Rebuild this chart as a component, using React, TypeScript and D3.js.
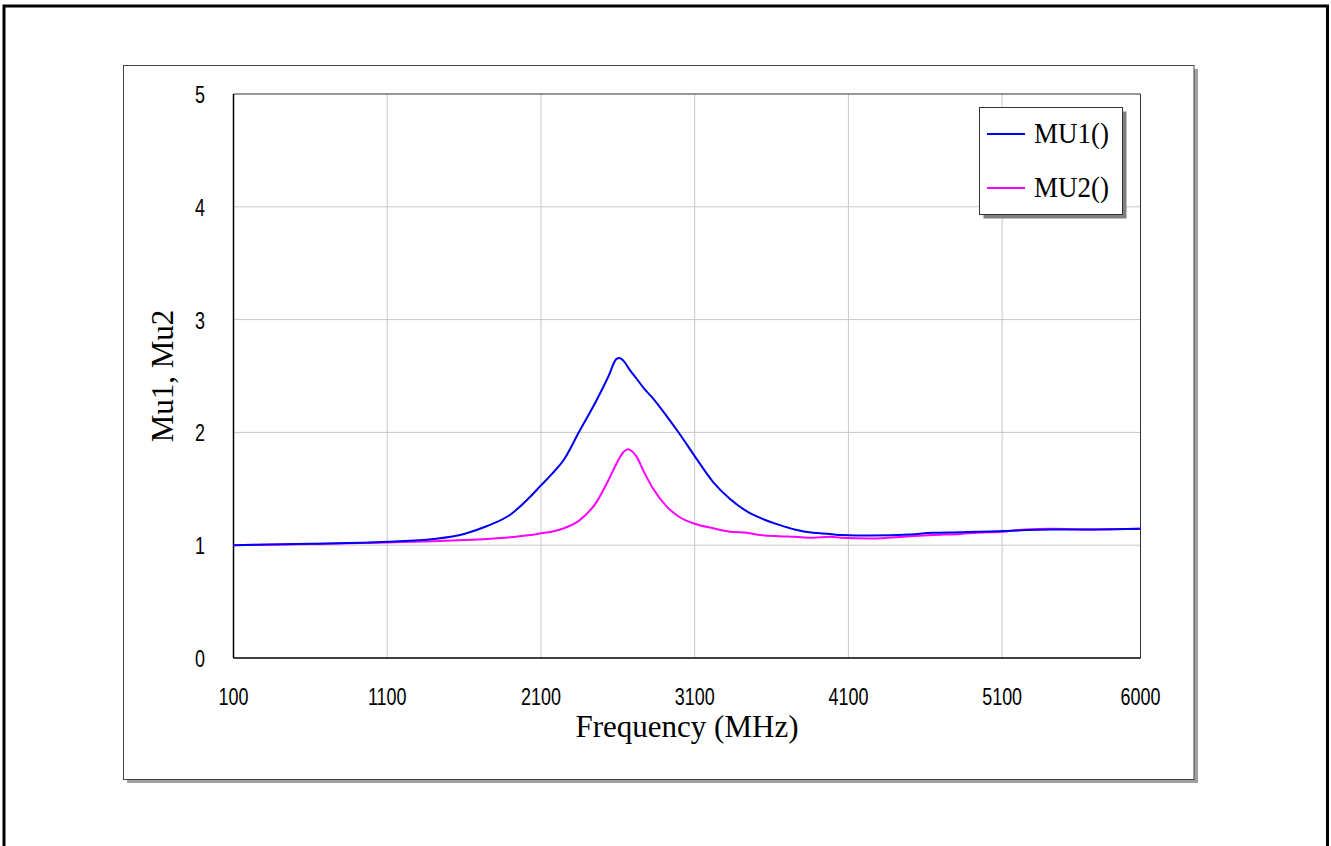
import React from "react";
import * as d3 from "d3";

const freq = [100, 600, 1100, 1400, 1600, 1750, 1900, 2030, 2100, 2170, 2250, 2350, 2460, 2540, 2590, 2610, 2640, 2670, 2680, 2720, 2770, 2830, 2920, 3000, 3100, 3220, 3330, 3440, 3530, 3650, 3750, 3870, 3980, 4050, 4250, 4500, 4650, 4830, 4940, 5110, 5260, 5420, 5700, 6000];
const mu1 = [1.0, 1.012, 1.03, 1.055, 1.1, 1.17, 1.27, 1.43, 1.53, 1.63, 1.76, 2.01, 2.28, 2.5, 2.65, 2.66, 2.63, 2.57, 2.55, 2.48, 2.39, 2.3, 2.14, 1.99, 1.79, 1.56, 1.41, 1.3, 1.24, 1.18, 1.14, 1.11, 1.1, 1.09, 1.085, 1.095, 1.11, 1.115, 1.12, 1.125, 1.135, 1.14, 1.14, 1.145];
const mu2 = [1.0, 1.01, 1.025, 1.035, 1.045, 1.055, 1.07, 1.09, 1.105, 1.12, 1.15, 1.22, 1.38, 1.58, 1.72, 1.77, 1.83, 1.85, 1.845, 1.79, 1.65, 1.5, 1.34, 1.25, 1.19, 1.15, 1.12, 1.11, 1.09, 1.08, 1.075, 1.067, 1.075, 1.067, 1.06, 1.08, 1.09, 1.1, 1.11, 1.12, 1.14, 1.145, 1.14, 1.145];
const xTicks = [100, 1100, 2100, 3100, 4100, 5100, 6000];
const yTicks = [0, 1, 2, 3, 4, 5];
const seriesNames = ["MU1()", "MU2()"];
const seriesColors = ["#0000ee", "#ff00ff"];

const W = 1331;
const H = 846;
const L = 233.5, R = 1140.5, T = 94, B = 658;

export default function App() {
  const x = d3.scaleLinear().domain([100, 6000]).range([L, R]);
  const y = d3.scaleLinear().domain([0, 5]).range([B, T]);
  const line = (vals: number[]) =>
    d3.line<number>()
      .x((_, i) => x(freq[i]))
      .y((d) => y(d))
      .curve(d3.curveMonotoneX)(vals) || "";

  const tickFont = "'Liberation Sans', Arial, sans-serif";
  const serif = "'Liberation Serif', 'Times New Roman', serif";

  return (
    <svg width={W} height={H} style={{ position: "absolute", left: 0, top: 0, background: "#fff" }}>
      {/* outer border */}
      <rect x={4} y={6} width={1323.5} height={860} fill="none" stroke="#000" strokeWidth={3} />
      {/* chart frame shadow */}
      <rect x={127} y={69} width={1071} height={714} fill="#a0a0a0" />
      <rect x={123.5} y={65.5} width={1070.5} height={714} fill="#fff" stroke="#444" strokeWidth={1} />

      {/* grid */}
      {xTicks.filter((t) => t !== 100 && t !== 6000).map((t) => (
        <line key={"gx" + t} x1={x(t)} x2={x(t)} y1={T} y2={B} stroke="#c8c8c8" strokeWidth={1} />
      ))}
      {yTicks.filter((t) => t !== 0 && t !== 5).map((t) => (
        <line key={"gy" + t} x1={L} x2={R} y1={y(t)} y2={y(t)} stroke="#c8c8c8" strokeWidth={1} />
      ))}
      {/* plot border */}
      <line x1={L} x2={R} y1={T} y2={T} stroke="#333" strokeWidth={1} />
      <line x1={R} x2={R} y1={T} y2={B} stroke="#333" strokeWidth={1} />
      <line x1={L} x2={L} y1={T} y2={B} stroke="#000" strokeWidth={1.5} />
      <line x1={L} x2={R} y1={B} y2={B} stroke="#000" strokeWidth={1.5} />

      {/* series */}
      <path d={line(mu2)} fill="none" stroke={seriesColors[1]} strokeWidth={2} />
      <path d={line(mu1)} fill="none" stroke={seriesColors[0]} strokeWidth={2} />

      {/* tick labels */}
      {xTicks.map((t) => (
        <text key={"xt" + t} transform={`translate(${x(t)},705) scale(0.78,1)`} textAnchor="middle" fontFamily={tickFont} fontSize={23} fill="#000">
          {t}
        </text>
      ))}
      {yTicks.map((t) => (
        <text key={"yt" + t} transform={`translate(205,${y(t) + 9}) scale(0.78,1)`} textAnchor="end" fontFamily={tickFont} fontSize={23} fill="#000">
          {t}
        </text>
      ))}

      {/* axis titles */}
      <text x={687} y={737} textAnchor="middle" fontFamily={serif} fontSize={31} fill="#000">
        Frequency (MHz)
      </text>
      <text transform={`translate(173,376) rotate(-90)`} textAnchor="middle" fontFamily={serif} fontSize={31} fill="#000">
        Mu1, Mu2
      </text>

      {/* legend */}
      <rect x={983.5} y={111.5} width={143} height={107} fill="#808080" />
      <rect x={979.5} y={107.5} width={143} height={107} fill="#fff" stroke="#333" strokeWidth={1} />
      {seriesNames.map((n, i) => (
        <g key={n}>
          <line x1={987} x2={1025} y1={134 + i * 54} y2={134 + i * 54} stroke={seriesColors[i]} strokeWidth={2} />
          <text transform={`translate(1034,${143 + i * 54}) scale(1,1.1)`} fontFamily={serif} fontSize={27} fill="#000">
            {n}
          </text>
        </g>
      ))}
    </svg>
  );
}
